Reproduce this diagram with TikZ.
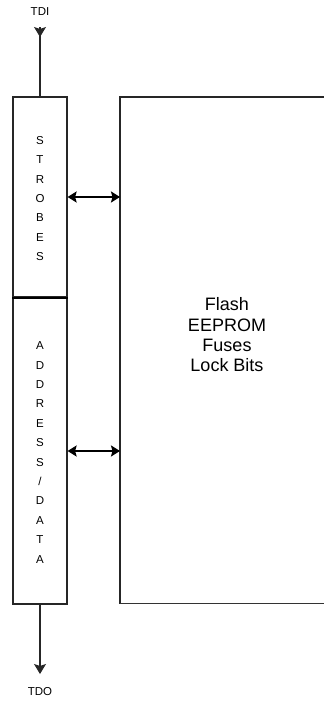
\documentclass[tikz,border=0pt]{standalone}
\usepackage{fontspec}
\setmainfont{Liberation Sans}
\usetikzlibrary{arrows.meta,decorations.markings}
\begin{document}
\begin{tikzpicture}[x=1pt,y=-1pt,
  boxline/.style={draw=black!85,line width=1.2pt},
  lbl/.style={font=\fontsize{11.5}{13}\selectfont,inner sep=0pt},
  col/.style={font=\fontsize{11.5}{19.4}\selectfont,align=center,inner sep=0pt},
  bus/.style={line width=2.4pt,{Stealth[length=9pt,width=11pt,inset=1.5pt]}-{Stealth[length=9pt,width=11pt,inset=1.5pt]}},
  sig/.style={line width=1.1pt,draw=black!85}]
\useasboundingbox (0,0) rectangle (324,702);
% left boxes
\node[boxline,minimum width=54pt,minimum height=200pt,inner sep=0pt] (strobes) at (40,197) {};
\node[boxline,minimum width=54pt,minimum height=307pt,inner sep=0pt] (addr) at (40,450.5) {};
\draw[line width=1.8pt] (strobes.south west) -- (strobes.south east);
\node[col] at (40,198.5) {S\\T\\R\\O\\B\\E\\S};
\node[col] at (40,452.5) {A\\D\\D\\R\\E\\S\\S\\/\\D\\A\\T\\A};
% right box (open on the right)
\coordinate (rtop) at (324,97);
\coordinate (rbot) at (324,603.5);
\coordinate (rtl) at (120,97);
\coordinate (rbl) at (120,603.5);
\draw[boxline] (rtop) -- (rtl) -- (rbl) -- (rbot);
\draw[line width=1.8pt,draw=black!80] (rbl) -- (rbot);
\node[font=\fontsize{18}{20.3}\selectfont,align=center,inner sep=0pt] (mem) at (227,335) {Flash\\EEPROM\\Fuses\\Lock Bits};
% bus arrows
\draw[bus] (strobes.east |- 0,197) -- (rtl |- 0,197);
\draw[bus] (addr.east |- 0,451) -- (rtl |- 0,451);
% TDI / TDO
\node[lbl] (tdi) at (40,12) {TDI};
\node[lbl] (tdo) at (40,692) {TDO};
\coordinate (tdiS) at (40,27);
\draw[sig] (tdiS) -- (strobes.north);
\draw[sig,-{Stealth[length=10pt,width=12pt,inset=2pt]}] (tdiS) -- (40,37);
\draw[sig,-{Stealth[length=10pt,width=12pt,inset=2pt]}] (addr.south) -- (40,674);
\end{tikzpicture}
\end{document}
